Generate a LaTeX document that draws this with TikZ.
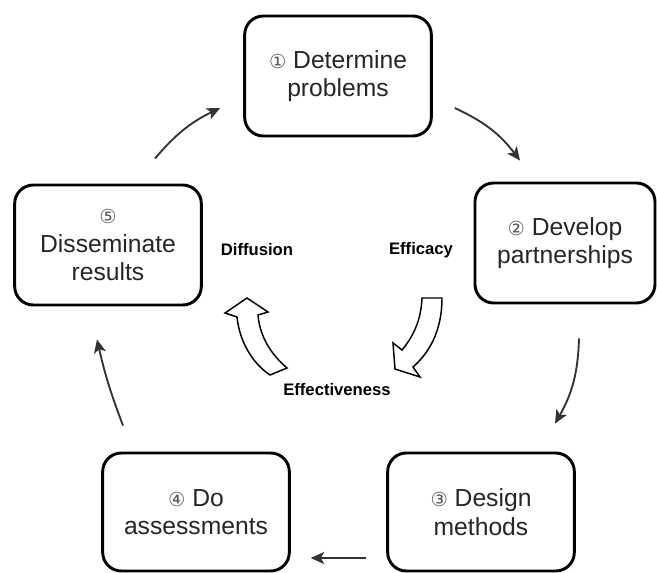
\documentclass[tikz,border=0pt]{standalone}
\usepackage{fontspec}
\setmainfont{Liberation Sans}
\newfontfamily\circfont{DejaVu Sans}
\usepackage{tikz}
\usetikzlibrary{arrows.meta}
\tikzstyle{stage}=[
        draw=black,
        line width=2.2pt,
        rounded corners=14pt,
        align=center,
        text=black!85,
        minimum width=140pt,
        minimum height=90pt,
        font=\fontsize{18.5pt}{21.5pt}\selectfont
]
\tikzstyle{flow}=[
        draw=black!80,
        line width=1.4pt,
        -{Stealth[length=10pt,width=9pt,inset=2.5pt]}
]
\tikzstyle{lbl}=[
        font=\fontsize{12.5pt}{14pt}\selectfont\bfseries,
        text=black
]
\tikzstyle{bigarrow}=[
        draw=black,
        fill=white,
        line width=1.1pt,
        line join=miter
]
\newcommand{\circnum}[1]{{\circfont\fontsize{14.5pt}{21.5pt}\selectfont\textcolor{black!65}{#1}}}

\begin{document}
\begin{tikzpicture}[x=0.75pt,y=-0.75pt]
                        \useasboundingbox (0,0) rectangle (657,572);

                        % the five stages
                        \node[stage] (b1) at (338,76) {\circnum{①} Determine\\problems};
                        \node[stage, minimum width=135pt] (b2) at (565,243) {\circnum{②} Develop\\partnerships};
                        \node[stage, minimum height=88.5pt] (b3) at (481,512) {\circnum{③} Design\\methods};
                        \node[stage, minimum height=88.5pt] (b4) at (196,512) {\circnum{④} Do\\assessments};
                        \node[stage] (b5) at (108,245) {\circnum{⑤}\\Disseminate\\results};

                        % cycle
                        \draw[flow] ([shift={(22,32)}]b1.east) to[bend left=14] ([shift={(-45,-21)}]b2.north);
                        \draw[flow] ([shift={(14,34)}]b2.south) to[bend left=14] ([shift={(74,-28)}]b3.north);
                        \draw[flow] ([shift={(-20,46)}]b3.west) -- ([shift={(20,46)}]b4.east);
                        \draw[flow] ([shift={(-73,-26)}]b4.north) to[bend left=4] ([shift={(-11,33)}]b5.south);
                        \draw[flow] ([shift={(47,-25)}]b5.north) to[bend left=12] ([shift={(-23,32)}]b1.west);

                        % inner labels
                        \node[lbl] (dif) at (257,250) {Diffusion};
                        \node[lbl] (eff) at (421,250) {Efficacy};
                        \node[lbl] (efv) at (337,390) {Effectiveness};

                        % block arrows
                        \draw[bigarrow] (237,317) .. controls (240,345) and (255,365) .. (270,375)
                            -- (287,368) .. controls (272,355) and (260,338) .. (258,315)
                            -- (268,312) -- (247,298) -- (225,313) -- cycle;
                        \draw[bigarrow] (422,298) -- (442,298) .. controls (442,330) and (430,352) .. (413,367)
                            -- (420,377) -- (395,369) -- (393,343)
                            -- (402,350) .. controls (412,338) and (421,322) .. cycle;

                    \end{tikzpicture}
\end{document}
